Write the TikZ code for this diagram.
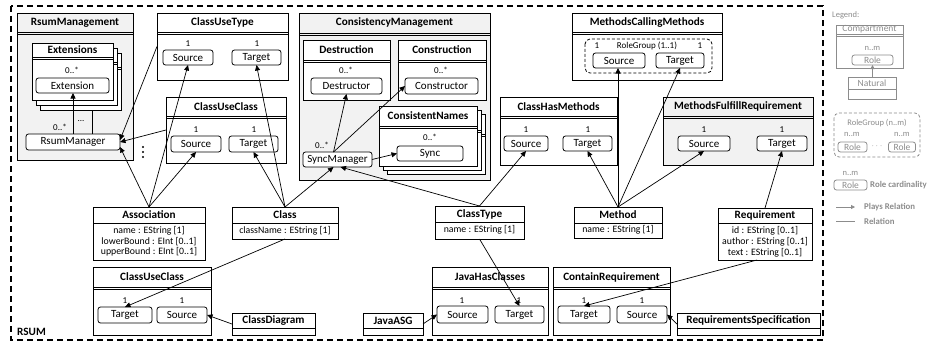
\documentclass[tikz,border=0pt]{standalone}
\usepackage{fontspec}
\setmainfont{Carlito}
\usetikzlibrary{arrows.meta}
\definecolor{cgray}{HTML}{F2F2F2}
\definecolor{lgray}{HTML}{8C8C8C}
\newcommand\tfont{\fontsize{11.2}{13}\selectfont\bfseries}
\newcommand\rfont{\fontsize{11}{13}\selectfont}
\newcommand\afont{\fontsize{9.8}{11}\selectfont}
\newcommand\mfont{\fontsize{9}{10}\selectfont}
\newcommand\lfont{\fontsize{9.5}{11}\selectfont}
\newcommand\lsfont{\fontsize{8.5}{10}\selectfont}
\tikzset{
  boxs/.style={draw, line width=0.9pt, inner sep=0pt, outer sep=0pt, anchor=north west},
  hl/.style={line width=0.7pt},
  ttl/.style={font=\tfont, inner sep=0pt},
  rolebx/.style={draw, rounded corners=2.5pt, line width=0.8pt, inner sep=0pt, outer sep=0pt, font=\rfont, fill=white},
  attr/.style={font=\afont, inner sep=0pt},
  mult/.style={font=\mfont, inner sep=0pt},
  plays/.style={-{Triangle[length=5.5pt,width=5pt]}, line width=0.7pt},
  rel/.style={line width=0.7pt},
  ltxt/.style={inner sep=0pt, text=lgray},
}
% name, x1, y1, x2, y2, header height, fill, title
\newcommand\cmpbox[8]{%
  \node[boxs, fill=#7, minimum width={#4pt-#2pt}, minimum height={#5pt-#3pt}] (#1) at (#2,#3) {};
  \draw[hl] ({#2},{#3+#6}) -- ({#4},{#3+#6});
  \draw[hl] ({#2},{#3+#6+2}) -- ({#4},{#3+#6+2});
  \node[ttl] (#1-t) at ({(#2+#4)/2},{#3+#6/2}) {#8};
}
% name, x1, y1, x2, y2, header height, title
\newcommand\natbox[7]{%
  \node[boxs, fill=white, minimum width={#4pt-#2pt}, minimum height={#5pt-#3pt}] (#1) at (#2,#3) {};
  \draw[hl] ({#2},{#3+#6}) -- ({#4},{#3+#6});
  \node[ttl] (#1-t) at ({(#2+#4)/2},{#3+#6/2}) {#7};
}
% name, x1, y1, x2, y2, text
\newcommand\rolebox[6]{%
  \node[rolebx, minimum width={#4pt-#2pt}, minimum height={#5pt-#3pt}] (#1) at ({(#2+#4)/2},{(#3+#5)/2}) {#6};
}
\begin{document}
\begin{tikzpicture}[x=1pt,y=-1pt]
\useasboundingbox (0,0) rectangle (928,345);
% outer RSUM frame
\draw[line width=1.1pt, dash pattern=on 6pt off 4pt] (11,6) rectangle (823,340);
\node[ttl, anchor=west] (rsum) at (17,332) {RSUM};

% RsumManagement
\cmpbox{rsm}{17}{13}{133}{160}{19}{cgray}{RsumManagement}
\cmpbox{ext3}{40}{53}{121}{110}{14}{white}{}
\cmpbox{ext2}{36}{48}{117}{105}{14}{white}{}
\cmpbox{ext}{32}{43}{113}{100}{14}{white}{Extensions}
\node[mult] (ext-m) at (72,70) {0..*};
\rolebox{extr}{36}{78}{109}{93}{Extension}
\rolebox{rmgr}{26}{134}{120}{150}{RsumManager}
\node[mult] (rmgr-m) at (60,127) {0..*};
\node[mult] (rmgr-d) at (81,121) {...};
\fill (143,147) circle (1.2) (143,152) circle (1.2) (143,157) circle (1.2);

% ClassUseType
\cmpbox{cut}{157}{13}{288}{80}{19}{white}{ClassUseType}
\rolebox{cutsrc}{163}{50}{213}{65}{Source}
\rolebox{cuttgt}{232}{50}{281}{65}{Target}
\node[mult] (cutsrc-m) at (188,44) {1};
\node[mult] (cuttgt-m) at (257,44) {1};

% ClassUseClass (upper)
\cmpbox{cuc}{166}{97}{286}{163}{19}{white}{ClassUseClass}
\rolebox{cucsrc}{171}{136}{221}{152}{Source}
\rolebox{cuctgt}{229}{136}{278}{152}{Target}
\node[mult] (cucsrc-m) at (196,130) {1};
\node[mult] (cuctgt-m) at (254,130) {1};

% ConsistencyManagement
\cmpbox{csm}{299}{13}{490}{180}{20}{cgray}{ConsistencyManagement}
\cmpbox{des}{303}{40}{390}{100}{20}{white}{Destruction}
\rolebox{destr}{311}{78}{382}{94}{Destructor}
\node[mult] (destr-m) at (346,70) {0..*};
\cmpbox{con}{398}{40}{486}{100}{20}{white}{Construction}
\rolebox{constr}{405}{78}{478}{94}{Constructor}
\node[mult] (constr-m) at (441,70) {0..*};
\cmpbox{cn3}{387}{114}{485}{174}{20}{white}{}
\cmpbox{cn2}{383}{110}{481}{170}{20}{white}{}
\cmpbox{cn}{379}{106}{477}{166}{20}{white}{ConsistentNames}
\rolebox{sync}{397}{146}{463}{161}{Sync}
\node[mult] (sync-m) at (430,137) {0..*};
\rolebox{smgr}{303}{152}{372}{167}{SyncManager}
\node[mult] (smgr-m) at (322,145) {0..*};

% MethodsCallingMethods
\cmpbox{mcm}{572}{13}{722}{80}{19}{white}{MethodsCallingMethods}
\draw[line width=0.8pt, dash pattern=on 3pt off 2pt, rounded corners=5pt] (585,39) rectangle (712,73);
\node[mult] (rg-l) at (597,46) {1};
\node[mult] (rg-t) at (647,46) {RoleGroup (1..1)};
\node[mult] (rg-r) at (700,46) {1};
\rolebox{mcmsrc}{593}{53}{645}{68}{Source}
\rolebox{mcmtgt}{656}{53}{704}{68}{Target}

% ClassHasMethods
\cmpbox{chm}{500}{97}{617}{165}{19}{white}{ClassHasMethods}
\rolebox{chmsrc}{504}{136}{548}{151}{Source}
\rolebox{chmtgt}{563}{136}{612}{151}{Target}
\node[mult] (chmsrc-m) at (526,130) {1};
\node[mult] (chmtgt-m) at (588,130) {1};

% MethodsFulfillRequirement
\cmpbox{mfr}{663}{97}{813}{165}{19}{cgray}{MethodsFulfillRequirement}
\rolebox{mfrsrc}{678}{136}{730}{151}{Source}
\rolebox{mfrtgt}{757}{136}{807}{151}{Target}
\node[mult] (mfrsrc-m) at (704,130) {1};
\node[mult] (mfrtgt-m) at (782,130) {1};

% Naturals
\natbox{assoc}{93}{207}{205}{260}{16}{Association}
\node[attr] (assoc-a1) at (149,231) {name : EString [1]};
\node[attr] (assoc-a2) at (149,241.5) {lowerBound : EInt [0..1]};
\node[attr] (assoc-a3) at (149,252) {upperBound : EInt [0..1]};
\natbox{class}{232}{207}{338}{239}{16}{Class}
\node[attr] (class-a1) at (285,231) {className : EString [1]};
\natbox{ctype}{435}{206}{524}{239}{16}{ClassType}
\node[attr] (ctype-a1) at (479.5,230) {name : EString [1]};
\natbox{method}{574}{207}{662}{238}{16}{Method}
\node[attr] (method-a1) at (618,230) {name : EString [1]};
\natbox{req}{718}{208}{812}{260}{15}{Requirement}
\node[attr] (req-a1) at (765,231) {id : EString [0..1]};
\node[attr] (req-a2) at (765,242) {author : EString [0..1]};
\node[attr] (req-a3) at (765,253) {text : EString [0..1]};

% bottom row
\cmpbox{cucl}{93}{267}{211}{335}{20}{white}{ClassUseClass}
\rolebox{cucltgt}{98}{307}{152}{323}{Target}
\rolebox{cuclsrc}{157}{307}{207}{323}{Source}
\node[mult] (cucltgt-m) at (125,301) {1};
\node[mult] (cuclsrc-m) at (182,301) {1};
\natbox{cd}{232}{313}{315}{335}{15}{ClassDiagram}
\natbox{jasg}{363}{313}{423}{335}{15}{JavaASG}
\cmpbox{jhc}{432}{267}{548}{335}{20}{white}{JavaHasClasses}
\rolebox{jhcsrc}{437}{306}{488}{323}{Source}
\rolebox{jhctgt}{495}{306}{544}{323}{Target}
\node[mult] (jhcsrc-m) at (462,301) {1};
\node[mult] (jhctgt-m) at (519,301) {1};
\cmpbox{cr}{553}{267}{670}{335}{20}{white}{ContainRequirement}
\rolebox{crtgt}{558}{306}{610}{323}{Target}
\rolebox{crsrc}{617}{306}{667}{323}{Source}
\node[mult] (crtgt-m) at (584,301) {1};
\node[mult] (crsrc-m) at (642,301) {1};
\natbox{rs}{677}{313}{820}{335}{15}{RequirementsSpecification}

% connectors
\draw[plays] (rmgr.north) -- (rmgr.north |- extr.south);
\coordinate (rm2) at ([xshift=19pt]rmgr.north);
\draw[rel] (rm2) -- (rm2 |- ext3.south);
\draw[plays] (cut.west) -- ([yshift=2pt]rmgr.east);
\draw[plays] (cuc.west) -- (rmgr.east);
\draw[plays] (assoc.north) -- ([yshift=-5pt]rmgr.east);
\draw[plays] (assoc.north) -- (cutsrc.south);
\draw[plays] (assoc.north) -- (cucsrc.south);
\draw[plays] (class.north) -- (cuttgt.south);
\draw[plays] (class.north) -- (cuctgt.south);
\draw[plays] (class.north) -- ([xshift=-4pt]smgr.south);
\draw[plays] (class.south) -- (cucltgt.north);
\draw[plays] (ctype.north) -- ([xshift=3pt]smgr.south);
\draw[plays] (ctype.north) -- (chmsrc.south);
\draw[plays] (ctype.south) -- (jhctgt.north);
\draw[plays] (method.north) -- (chmtgt.south);
\draw[plays] (method.north) -- (method.north |- mcmsrc.south);
\draw[plays] (method.north) -- (mcmtgt.south);
\draw[plays] (method.north) -- (mfrsrc.south);
\draw[plays] (req.north) -- (mfrtgt.south);
\draw[plays] ([xshift=-8pt]req.south) -- (crtgt.north);
\draw[plays] (cd.west) -- (cuclsrc.east);
\draw[plays] (jasg.east) -- (jhcsrc.west);
\draw[plays] (rs.west) -- (crsrc.east);
\draw[plays] ([xshift=-4pt]smgr.north) -- (destr.south);
\draw[plays] ([xshift=-4pt]smgr.north) -- (constr.west);
\draw[plays] (smgr.east) -- (sync.west);

% legend
\begin{scope}[lgray]
\node[ltxt, font=\lsfont, anchor=west] (lg-title) at (832,15) {Legend:};
\node[boxs, draw=lgray, minimum width=67pt, minimum height=43pt] (lgc) at (836,25) {};
\draw[hl] (836,34) -- (903,34);
\draw[hl] (836,36) -- (903,36);
\node[ltxt, font=\lfont] (lgc-t) at (869.5,29.5) {Compartment};
\node[ltxt, font=\lsfont] (lgr-m) at (872.5,48) {n..m};
\node[rolebx, draw=lgray, text=lgray, font=\lfont, minimum width=41pt, minimum height=10pt] (lgr) at (872.5,60) {Role};
\node[boxs, draw=lgray, minimum width=48pt, minimum height=22pt] (lgn) at (848,77) {};
\draw[hl] (848,89) -- (896,89);
\node[ltxt, font=\lfont] (lgn-t) at (872,83) {Natural};
\draw[draw=lgray, fill=lgray, line width=0.7pt, -{Triangle[length=4pt,width=4pt]}] (lgn.north -| lgr.south) -- (lgr.south);
\draw[line width=0.8pt, dash pattern=on 3pt off 2pt, rounded corners=5pt] (834,113) rectangle (920,157);
\node[ltxt, font=\lsfont] (lgg-t) at (877,123) {RoleGroup (n..m)};
\node[ltxt, font=\lsfont] (lgg-m1) at (852,134) {n..m};
\node[ltxt, font=\lsfont] (lgg-m2) at (902,134) {n..m};
\node[rolebx, draw=lgray, text=lgray, font=\lfont, minimum width=29pt, minimum height=10pt] (lgg-r1) at (852.5,147) {Role};
\node[rolebx, draw=lgray, text=lgray, font=\lfont, minimum width=27pt, minimum height=10pt] (lgg-r2) at (902,147) {Role};
\node[ltxt, font=\mfont] (lgg-d) at (877,146) {$\cdots$};
\node[ltxt, font=\lsfont] (lgk-m) at (850.5,173) {n..m};
\node[rolebx, draw=lgray, text=lgray, font=\lfont, minimum width=33pt, minimum height=10pt] (lgk-r) at (850.5,185) {Role};
\node[ltxt, font=\fontsize{8.8}{10}\selectfont\bfseries, anchor=west] (lgk-t) at (870,185) {Role cardinality};
\coordinate (lgp1) at (836,207);
\coordinate (lgp2) at (855,207);
\draw[draw=lgray, fill=lgray, line width=0.8pt, -{Triangle[length=4pt,width=4pt]}] (lgp1) -- (lgp2);
\node[ltxt, font=\fontsize{8.8}{10}\selectfont\bfseries, anchor=west] (lgp-t) at (864,207) {Plays Relation};
\coordinate (lgq1) at (836,221);
\coordinate (lgq2) at (855,221);
\draw[draw=lgray, line width=0.8pt] (lgq1) -- (lgq2);
\node[ltxt, font=\fontsize{8.8}{10}\selectfont\bfseries, anchor=west] (lgq-t) at (864,221) {Relation};
\end{scope}
\end{tikzpicture}
\end{document}
